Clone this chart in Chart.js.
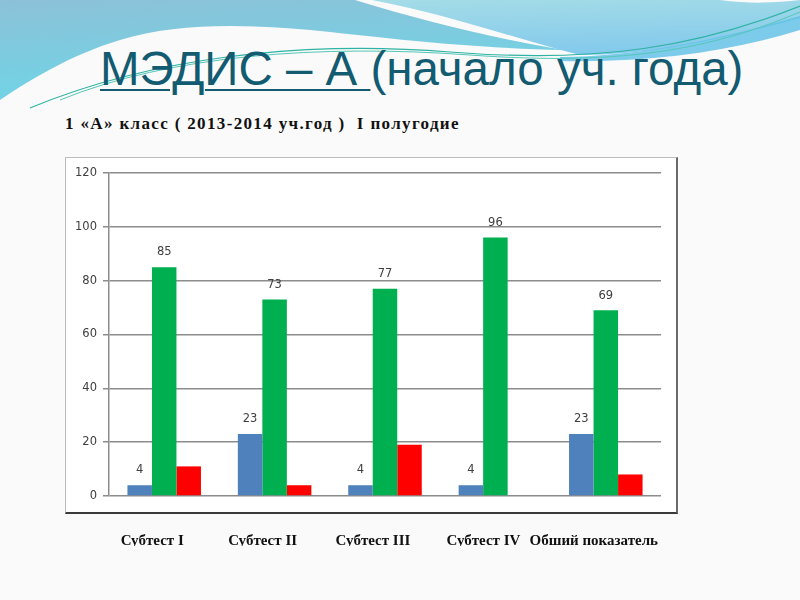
<!DOCTYPE html>
<html>
<head>
<meta charset="utf-8">
<script src="https://cdn.jsdelivr.net/npm/chart.js@4"></script>
<style>
  body { margin: 0; width: 800px; height: 600px; background: #fafafa; position: relative; overflow: hidden; }
  #deco { position: absolute; left: 0; top: 0; }
  #title { position: absolute; left: 100px; top: 45px; font-family: "Liberation Sans", Arial, sans-serif;
           font-size: 47.5px; color: #135b70; white-space: nowrap; line-height: 1; }
  #title u { text-decoration-thickness: 2px; text-underline-offset: 4px; }
  #subtitle { position: absolute; left: 65px; top: 114px; font-family: "Liberation Serif", serif;
              font-weight: bold; font-size: 17px; letter-spacing: 1.35px; color: #111; white-space: nowrap; }
  #frame { position: absolute; left: 65px; top: 157px; width: 610px; height: 354px; background: #fff;
           border-top: 1px solid #bdbdbd; border-left: 1px solid #bdbdbd;
           border-right: 2px solid #6a6a6a; border-bottom: 2px solid #3a3a3a; }
  #chart { position: absolute; left: 65px; top: 157px; }
</style>
</head>
<body>
<svg id="deco" width="800" height="120">
  <defs>
    <linearGradient id="g1" x1="0" y1="0" x2="0.3" y2="1">
      <stop offset="0" stop-color="#8cc1d8"/>
      <stop offset="1" stop-color="#6fd5e6"/>
    </linearGradient>
    <linearGradient id="g2" x1="0" y1="0" x2="0.2" y2="1">
      <stop offset="0" stop-color="#a4dce7"/>
      <stop offset="1" stop-color="#84caec"/>
    </linearGradient>
  </defs>
  <path d="M0,0 H355 C420,20 500,40 565,50 C480,48 420,42 330,32 C250,24 180,22 120,40 C70,55 30,80 0,100 Z" fill="url(#g1)"/>
  <path d="M372,0 H720 C750,4 775,3 800,0 V18 C720,40 650,55 580,55 C520,40 450,15 372,0 Z" fill="url(#g2)"/>
  <path d="M560,57 C650,56 730,36 800,16 V30 C730,52 650,63 560,61 Z" fill="#5cbfe6" opacity="0.8"/>
  <path d="M30,108 C150,58 300,40 450,52 S700,46 800,6" fill="none" stroke="#2fb3a3" stroke-width="1.2"/>
  <path d="M60,100 C170,55 320,44 470,55 S710,50 800,12" fill="none" stroke="#56c6b8" stroke-width="1"/>
</svg>
<div id="title"><u>МЭДИС – А </u>(начало уч. года)</div>
<div id="subtitle">1 «А» класс ( 2013-2014 уч.год )&nbsp; I полугодие</div>
<div id="frame"></div>
<canvas id="chart" width="625" height="400"></canvas>
<script>
const categories = ['Субтест I', 'Субтест II', 'Субтест III', 'Субтест IV', 'Обший показатель'];
const blueValues = [4, 23, 4, 4, 23];
const greenValues = [85, 73, 77, 96, 69];
const redValues = [11, 4, 19, 0, 8];
const yTicks = [0, 20, 40, 60, 80, 100, 120];

const tickFont = { family: 'DejaVu Sans', size: 11.5 };

// values above the blue and green bars
const valueLabels = {
    id: 'valueLabels',
    afterDatasetsDraw(chart) {
        const ctx = chart.ctx;
        ctx.save();
        ctx.font = '11.5px "DejaVu Sans"';
        ctx.fillStyle = '#404040';
        ctx.textAlign = 'center';
        ctx.textBaseline = 'bottom';
        [0, 1].forEach(i => {
            chart.getDatasetMeta(i).data.forEach((bar, j) => {
                ctx.fillText(chart.data.datasets[i].data[j], bar.x, bar.y - 9);
            });
        });
        ctx.restore();
    }
};

new Chart(document.getElementById('chart'), {
    type: 'bar',
    data: {
        labels: categories,
        datasets: [
            { data: blueValues, backgroundColor: '#4f81bd' },
            { data: greenValues, backgroundColor: '#00b050' },
            { data: redValues, backgroundColor: '#ff0000' }
        ]
    },
    options: {
        responsive: false,
        animation: false,
        categoryPercentage: 0.666,
        barPercentage: 1,
        layout: { padding: { left: 0, top: 16, right: 29, bottom: 11 } },
        plugins: { legend: { display: false }, tooltip: { enabled: false } },
        scales: {
            x: {
                afterFit: axis => {
                    axis.height = 50;
                    axis.paddingLeft = 0;
                    axis.paddingRight = 0;
                },
                grid: { display: false, drawTicks: false },
                border: { display: false },
                ticks: {
                    padding: 36,
                    labelOffset: -12,
                    maxRotation: 0,
                    minRotation: 0,
                    autoSkip: false,
                    color: '#111',
                    font: { family: 'Liberation Serif', size: 15, weight: 'bold' }
                }
            },
            y: {
                min: 0,
                max: 120,
                afterFit: axis => { axis.width = 44; },
                afterBuildTicks: axis => { axis.ticks = yTicks.map(v => ({ value: v })); },
                grid: { color: '#8c8c8c', lineWidth: 1.5, tickLength: 6 },
                border: { color: '#8c8c8c', width: 1.5 },
                ticks: { padding: 6, color: '#404040', font: tickFont }
            }
        }
    },
    plugins: [valueLabels]
});
</script>
</body>
</html>
